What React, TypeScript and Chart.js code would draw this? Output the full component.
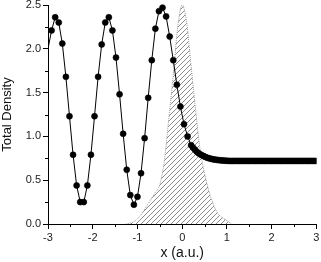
import React, { useEffect, useRef } from 'react';
import { Chart, registerables } from 'chart.js';
Chart.register(...registerables);

const curveX = [
  -3, -2.92, -2.84, -2.76, -2.68, -2.6, -2.52, -2.44, -2.36, -2.28,
  -2.2, -2.12, -2.04, -1.96, -1.88, -1.8, -1.72, -1.64, -1.56, -1.48,
  -1.4, -1.32, -1.24, -1.16, -1.08, -1, -0.92, -0.84, -0.76, -0.68,
  -0.6, -0.52, -0.44, -0.36, -0.28, -0.2, -0.12, -0.04, 0.04, 0.12,
  0.2,
  0.24, 0.28, 0.32, 0.36, 0.4, 0.44, 0.48, 0.52, 0.56, 0.6,
  0.64, 0.68, 0.72, 0.76, 0.8, 0.84, 0.88, 0.92, 0.96, 1,
  1.04, 1.08, 1.12, 1.16, 1.2, 1.24, 1.28, 1.32, 1.36, 1.4,
  1.44, 1.48, 1.52, 1.56, 1.6, 1.64, 1.68, 1.72, 1.76, 1.8,
  1.84, 1.88, 1.92, 1.96, 2, 2.04, 2.08, 2.12, 2.16, 2.2,
  2.24, 2.28, 2.32, 2.36, 2.4, 2.44, 2.48, 2.52, 2.56, 2.6,
  2.64, 2.68, 2.72, 2.76, 2.8, 2.84, 2.88, 2.92, 2.96, 3,
];
const curveY = [
  2.0, 2.21, 2.36, 2.30, 2.06, 1.68, 1.23, 0.79, 0.44, 0.25,
  0.25, 0.44, 0.79, 1.23, 1.68, 2.05, 2.30, 2.36, 2.21, 1.90,
  1.48, 1.03, 0.62, 0.33, 0.22, 0.31, 0.58, 0.98, 1.44, 1.87,
  2.23, 2.43, 2.47, 2.37, 2.14, 1.87, 1.59, 1.34, 1.14, 1.00,
  0.90,
  0.872, 0.85, 0.828, 0.81, 0.797, 0.785, 0.775, 0.765, 0.757, 0.75,
  0.745, 0.74, 0.736, 0.733, 0.73, 0.728, 0.726, 0.725, 0.723, 0.722,
  0.72, 0.72, 0.72, 0.72, 0.72, 0.72, 0.72, 0.72, 0.72, 0.72,
  0.72, 0.72, 0.72, 0.72, 0.72, 0.72, 0.72, 0.72, 0.72, 0.72,
  0.72, 0.72, 0.72, 0.72, 0.72, 0.72, 0.72, 0.72, 0.72, 0.72,
  0.72, 0.72, 0.72, 0.72, 0.72, 0.72, 0.72, 0.72, 0.72, 0.72,
  0.72, 0.72, 0.72, 0.72, 0.72, 0.72, 0.72, 0.72, 0.72, 0.72,
];

const hatchX = [-1.25, -1.1, -1.0, -0.9, -0.8, -0.7, -0.6, -0.5, -0.4, -0.3, -0.2, -0.1, 0, 0.1, 0.2, 0.3, 0.4, 0.5, 0.6, 0.7, 0.8, 0.9, 1.0, 1.1];
const hatchY = [0, 0.02, 0.06, 0.12, 0.2, 0.28, 0.36, 0.45, 0.72, 1.2, 1.7, 2.25, 2.5, 2.3, 1.8, 1.3, 0.85, 0.58, 0.37, 0.22, 0.12, 0.07, 0.04, 0];

const xMinor = [-2.5, -1.5, -0.5, 0.5, 1.5, 2.5];
const yMinor = [0.25, 0.75, 1.25, 1.75, 2.25];

const FONT = "'Liberation Sans', Arial, sans-serif";

function makePattern(): CanvasPattern | string {
  const c = document.createElement('canvas');
  c.width = 5;
  c.height = 5;
  const g = c.getContext('2d');
  if (!g) return '#ccc';
  g.strokeStyle = '#8c8c8c';
  g.lineWidth = 1;
  g.beginPath();
  g.moveTo(0, 5); g.lineTo(5, 0);
  g.moveTo(-1, 1); g.lineTo(1, -1);
  g.moveTo(4, 6); g.lineTo(6, 4);
  g.stroke();
  return g.createPattern(c, 'repeat') || '#ccc';
}

const minorTicks = {
  id: 'minorTicks',
  afterDraw(chart: any) {
    const ctx = chart.ctx;
    const xs = chart.scales.x;
    const ys = chart.scales.y;
    ctx.save();
    ctx.strokeStyle = '#000';
    ctx.lineWidth = 1;
    ctx.beginPath();
    for (const v of xMinor) {
      const px = Math.round(xs.getPixelForValue(v)) + 0.5;
      ctx.moveTo(px, ys.bottom);
      ctx.lineTo(px, ys.bottom + 3);
    }
    for (const v of yMinor) {
      const py = Math.round(ys.getPixelForValue(v)) + 0.5;
      ctx.moveTo(xs.left, py);
      ctx.lineTo(xs.left - 3, py);
    }
    ctx.stroke();
    ctx.restore();
  },
};

export default function App() {
  const ref = useRef<HTMLCanvasElement>(null);
  useEffect(() => {
    if (!ref.current) return;
    const chart = new Chart(ref.current, {
      type: 'line',
      data: {
        datasets: [
          {
            data: curveX.map((x, i) => ({ x, y: curveY[i] })),
            borderColor: '#000',
            borderWidth: 1,
            backgroundColor: '#000',
            pointBackgroundColor: '#000',
            pointBorderColor: '#000',
            pointBorderWidth: 0.6,
            pointRadius: (ctx: any) => (ctx.dataIndex === 0 ? 0 : 3),
            tension: 0,
            fill: false,
            clip: { left: 0, right: 0, top: 5, bottom: 0 },
          } as any,
          {
            data: hatchX.map((x, i) => ({ x, y: hatchY[i] })),
            borderColor: '#9a9a9a',
            borderWidth: 1,
            borderDash: [1, 1],
            backgroundColor: makePattern(),
            pointRadius: 0,
            fill: 'origin',
            cubicInterpolationMode: 'monotone',
          } as any,
        ],
      },
      options: {
        responsive: false,
        animation: false,
        layout: { padding: { left: 0, right: 4, top: 5, bottom: 0 } },
        plugins: { legend: { display: false }, tooltip: { enabled: false } },
        scales: {
          x: {
            type: 'linear',
            min: -3,
            max: 3,
            ticks: { stepSize: 1, color: '#222', font: { family: FONT, size: 11 }, padding: 2 },
            grid: { drawOnChartArea: false, drawTicks: true, tickLength: 5, color: '#000' },
            border: { display: true, color: '#000', width: 1 },
            title: { display: true, text: 'x (a.u.)', color: '#111', font: { family: FONT, size: 14 }, padding: { top: 0, bottom: 0 } },
            afterFit: (s: any) => { s.height = 38; s.paddingLeft = 0; s.paddingRight = 0; },
          },
          y: {
            type: 'linear',
            min: 0,
            max: 2.5,
            ticks: { stepSize: 0.5, color: '#222', font: { family: FONT, size: 11 }, padding: 2, callback: (v: any) => Number(v).toFixed(1) },
            grid: { drawOnChartArea: false, drawTicks: true, tickLength: 5, color: '#000' },
            border: { display: true, color: '#000', width: 1 },
            title: { display: true, text: 'Total Density', color: '#111', font: { family: FONT, size: 13 }, padding: { top: 0, bottom: 0 } },
            afterFit: (s: any) => { s.width = 48; s.paddingTop = 0; s.paddingBottom = 0; },
          },
        },
      } as any,
      plugins: [minorTicks],
    });
    return () => chart.destroy();
  }, []);
  return (
    <div style={{ position: 'fixed', left: 0, top: 0, width: 321, height: 262, background: '#fff' }}>
      <canvas ref={ref} width={321} height={262} />
    </div>
  );
}
